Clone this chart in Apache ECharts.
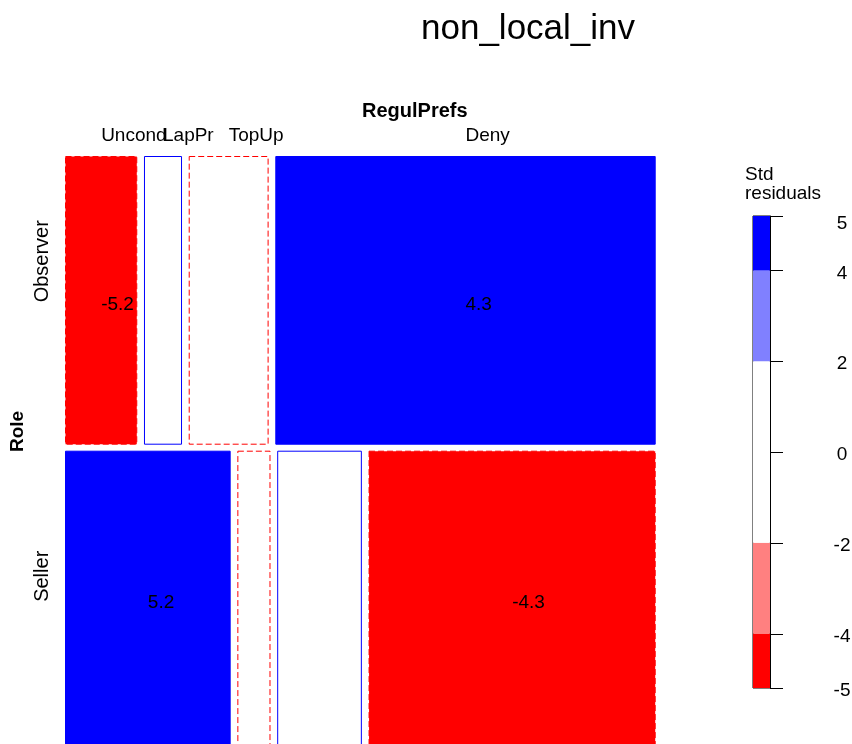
<!DOCTYPE html>
<html>
<head>
<meta charset="utf-8">
<script src="https://cdn.jsdelivr.net/npm/echarts@6/dist/echarts.min.js"></script>
<style>
  html, body { margin: 0; padding: 0; background: #fff; }
  #chart { width: 852px; height: 744px; }
</style>
</head>
<body>
<div id="chart"></div>
<script>
// mosaic data: Role x RegulPrefs (counts)
const roles = ["Observer", "Seller"];
const regulPrefs = ["Uncond", "LapPr", "TopUp", "Deny"];
const observerCounts = [19, 10, 21, 100];
const sellerCounts = [45, 9, 23, 78];
const observerResid = [-5.2, 1.3, -1.1, 4.3];
const sellerResid = [5.2, -1.3, 1.1, -4.3];

// legend (std residuals)
const legendBins = [-5.2, -4, -2, 2, 4, 5.2];
const legendTicks = [-5.2, -4, -2, 0, 2, 4, 5.2];

const FONT = "Liberation Sans, Arial, Helvetica, sans-serif";
const GX = 6.7 / 590.7; // gap between columns, data units
const GY = 6 / 593;     // gap between rows

function fillFor(r) {
  if (r > 4) return "#0000FF";
  if (r > 2) return "#8080FF";
  if (r < -4) return "#FF0000";
  if (r < -2) return "#FF8080";
  return "#FFFFFF";
}

// build cells
let counts = [observerCounts, sellerCounts];
let resids = [observerResid, sellerResid];
let rowTotals = counts.map(c => c.reduce((a, b) => a + b, 0));
let grand = rowTotals[0] + rowTotals[1];
let cells = [];
let y = 0;
for (let r = 0; r < roles.length; r++) {
  let h = (1 - GY) * rowTotals[r] / grand;
  let x = 0;
  for (let c = 0; c < regulPrefs.length; c++) {
    let w = (1 - 3 * GX) * counts[r][c] / rowTotals[r];
    cells.push([x, x + w, y, y + h, resids[r][c], r, c]);
    x += w + GX;
  }
  y += h + GY;
}

let legendData = [];
for (let i = 0; i < legendBins.length - 1; i++) {
  legendData.push([legendBins[i], legendBins[i + 1]]);
}

let myChart = echarts.init(document.getElementById("chart"));

let option = {
  animation: false,
  backgroundColor: "#fff",
  grid: [
    { left: 65, top: 156, width: 590.7, height: 593, outerBoundsMode: "none" },
    {
      left: 753, top: 216, width: 17, height: 472, outerBoundsMode: "none",
      show: true, borderColor: "#000", borderWidth: 1
    }
  ],
  xAxis: [
    { gridIndex: 0, type: "value", min: 0, max: 1, show: false },
    { gridIndex: 1, type: "value", min: 0, max: 1, show: false }
  ],
  yAxis: [
    { gridIndex: 0, type: "value", min: 0, max: 1, inverse: true, show: false },
    {
      gridIndex: 1, type: "value", min: -5.2, max: 5.2, position: "right",
      splitLine: { show: false },
      axisLine: { show: true, onZero: false, lineStyle: { color: "#000", width: 1 } },
      axisTick: { show: false },
      axisLabel: {
        customValues: legendTicks,
        formatter: v => (v > 5 ? "{top|5}" : String(Math.round(v))),
        margin: 72, align: "center",
        padding: [6, 0, 0, 0],
        color: "#000", fontSize: 19, fontFamily: FONT,
        rich: { top: { fontSize: 19, fontFamily: FONT, padding: [10, 0, 0, 0] } }
      }
    }
  ],
  graphic: [
    {
      type: "text", left: 421, top: 12,
      style: { text: "non_local_inv", fontSize: 35, fontFamily: FONT, fill: "#000" }
    },
    {
      type: "text", x: 362, y: 111,
      style: {
        text: "RegulPrefs", fontSize: 20, fontWeight: "bold", fontFamily: FONT,
        fill: "#000", align: "left", verticalAlign: "middle"
      }
    },
    {
      type: "text", x: 18, y: 452, rotation: Math.PI / 2,
      style: {
        text: "Role", fontSize: 19, fontWeight: "bold", fontFamily: FONT,
        fill: "#000", align: "left", verticalAlign: "middle"
      }
    },
    {
      type: "text", x: 745, y: 165,
      style: {
        text: "Std\nresiduals", fontSize: 19, lineHeight: 19, fontFamily: FONT,
        fill: "#000", align: "left", verticalAlign: "top"
      }
    }
  ],
  series: [
    {
      type: "custom",
      xAxisIndex: 0,
      yAxisIndex: 0,
      data: cells,
      clip: false,
      renderItem: function (params, api) {
        let p0 = api.coord([api.value(0), api.value(2)]);
        let p1 = api.coord([api.value(1), api.value(3)]);
        let res = api.value(4);
        let row = api.value(5);
        let col = api.value(6);
        let cx = (p0[0] + p1[0]) / 2;
        let cy = (p0[1] + p1[1]) / 2;
        let children = [
          {
            type: "rect",
            shape: { x: p0[0] + 0.5, y: p0[1] + 0.5, width: p1[0] - p0[0] - 1, height: p1[1] - p0[1] - 1 },
            style: {
              fill: fillFor(res),
              stroke: res > 0 ? "#0000FF" : "#FF0000",
              lineWidth: 1,
              lineDash: res > 0 ? null : [6, 3]
            }
          }
        ];
        if (Math.abs(res) > 2) {
          children.push({
            type: "text",
            style: {
              text: String(res), x: cx, y: cy + (row === 0 ? 4 : 3),
              align: "left", verticalAlign: "middle",
              fontSize: 19, fontFamily: FONT, fill: "#000"
            }
          });
        }
        if (row === 0) {
          children.push({
            type: "text",
            style: {
              text: regulPrefs[col], x: cx, y: p0[1] - 20,
              align: "left", verticalAlign: "middle",
              fontSize: 19, fontFamily: FONT, fill: "#000"
            }
          });
        }
        if (col === 0) {
          children.push({
            type: "text",
            x: 42, y: cy + 2, rotation: Math.PI / 2,
            style: {
              text: roles[row], x: 0, y: 0,
              align: "left", verticalAlign: "middle",
              fontSize: 20, fontFamily: FONT, fill: "#000"
            }
          });
        }
        return { type: "group", children: children };
      }
    },
    {
      type: "custom",
      xAxisIndex: 1,
      yAxisIndex: 1,
      data: legendData,
      renderItem: function (params, api) {
        let lo = api.value(0);
        let hi = api.value(1);
        let p0 = api.coord([0, hi]);
        let p1 = api.coord([1, lo]);
        return {
          type: "rect",
          shape: { x: p0[0], y: p0[1], width: p1[0] - p0[0], height: p1[1] - p0[1] },
          style: { fill: fillFor((lo + hi) / 2 * 1.3) }
        };
      }
    },
    {
      // legend tick marks
      type: "custom",
      xAxisIndex: 1,
      yAxisIndex: 1,
      clip: false,
      z: 5,
      data: legendTicks.map(v => [v]),
      renderItem: function (params, api) {
        let p = api.coord([1, api.value(0)]);
        let yy = Math.round(p[1]) + 0.5;
        return {
          type: "line",
          shape: { x1: p[0], y1: yy, x2: p[0] + 13, y2: yy },
          style: { stroke: "#000", lineWidth: 1 }
        };
      }
    }
  ]
};
myChart.setOption(option);
</script>
</body>
</html>
